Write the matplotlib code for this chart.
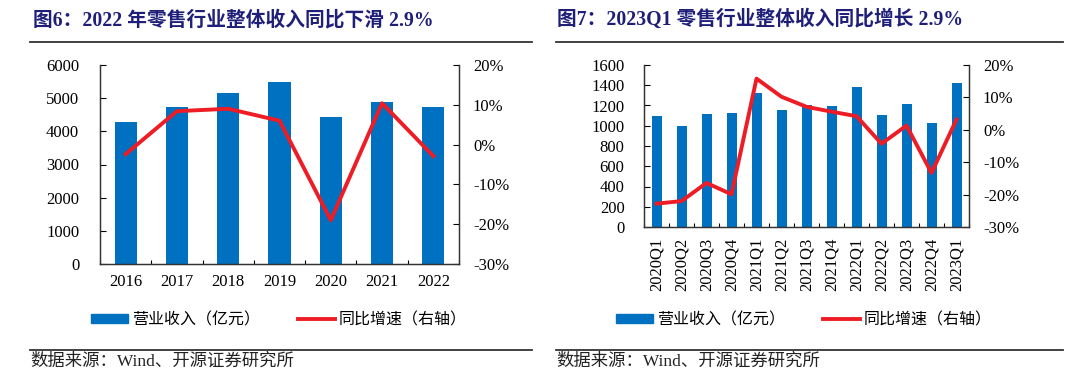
import matplotlib
matplotlib.use("Agg")
import matplotlib.pyplot as plt
from matplotlib.lines import Line2D
from matplotlib.patches import Patch

# ---------------- data ----------------
years = ["2016", "2017", "2018", "2019", "2020", "2021", "2022"]
rev_year = [4280, 4740, 5165, 5478, 4432, 4894, 4743]
yoy_year = [-2.4, 8.4, 9.0, 6.0, -19.0, 10.4, -2.9]

quarters = ["2020Q1", "2020Q2", "2020Q3", "2020Q4", "2021Q1", "2021Q2", "2021Q3",
            "2021Q4", "2022Q1", "2022Q2", "2022Q3", "2022Q4", "2023Q1"]
rev_q = [1092, 993, 1115, 1128, 1326, 1155, 1204, 1191, 1382, 1102, 1211, 1029, 1422]
yoy_q = [-22.8, -22.0, -16.4, -19.9, 15.8, 10.2, 7.1, 5.6, 4.2, -4.3, 1.3, -13.3, 3.2]

left_yticks = [0, 1000, 2000, 3000, 4000, 5000, 6000]
right_yticks_q = [0, 200, 400, 600, 800, 1000, 1200, 1400, 1600]
pct_ticks = [-30, -20, -10, 0, 10, 20]

title_left = "图6：2022 年零售行业整体收入同比下滑 2.9%"
title_right = "图7：2023Q1 零售行业整体收入同比增长 2.9%"
legend_labels = ["营业收入（亿元）", "同比增速（右轴）"]
source_text = "数据来源：Wind、开源证券研究所"

# ---------------- style ----------------
BLUE = "#0070C0"
RED = "#EE1C25"
NAVY = "#1F1F7A"
SERIF = ["Liberation Serif", "Noto Sans CJK SC"]
CJK = ["Noto Sans CJK SC", "DejaVu Sans"]
plt.rcParams["font.family"] = SERIF

W, H = 1080, 384
fig = plt.figure(figsize=(W / 100, H / 100), dpi=100)


def px(x0, y0, x1, y1):
    return [x0 / W, 1 - y1 / H, (x1 - x0) / W, (y1 - y0) / H]


def make_panel(rect, cats, bars, line, yticks, bar_w, rotate, lpad):
    ax = fig.add_axes(rect)
    xs = list(range(len(cats)))
    ax.bar(xs, bars, width=bar_w, color=BLUE, zorder=2)
    ax.set_xlim(-0.5, len(cats) - 0.5)
    ax.set_ylim(yticks[0], yticks[-1])
    ax.set_yticks(yticks)
    ax.set_yticklabels([str(v) for v in yticks], fontsize=12)
    ax.set_xticks(xs)
    ax.set_xticklabels(cats, fontsize=12, rotation=90 if rotate else 0)
    ax.set_xticks([i + 0.5 for i in range(-1, len(cats))], minor=True)
    ax.tick_params(axis="x", which="major", length=0, pad=7 if not rotate else 8)
    ax.tick_params(axis="x", which="minor", direction="in", length=3, width=0.8)
    ax.tick_params(axis="y", direction="in", length=4, width=0.8, pad=lpad)
    ax.spines["top"].set_visible(False)
    for s in ["left", "bottom", "right"]:
        ax.spines[s].set_linewidth(0.9)
        ax.spines[s].set_color("#333333")

    ax2 = ax.twinx()
    ax2.plot(xs, line, color=RED, lw=2.8, zorder=3)
    ax2.set_ylim(pct_ticks[0], pct_ticks[-1])
    ax2.set_yticks(pct_ticks)
    ax2.set_yticklabels([f"{v}%" for v in pct_ticks], fontsize=12)
    ax2.tick_params(axis="y", direction="in", length=4, width=0.8, pad=10)
    ax2.spines["top"].set_visible(False)
    for s in ["left", "bottom", "right"]:
        ax2.spines[s].set_linewidth(0.9)
        ax2.spines[s].set_color("#333333")
    return ax, ax2


make_panel(px(100, 65, 459, 264), years, rev_year, yoy_year, left_yticks, 0.43, False, 15)
make_panel(px(644, 65, 969, 227), quarters, rev_q, yoy_q, right_yticks_q, 0.40, True, 14)

# titles
for x, t in [(33, title_left), (557, title_right)]:
    fig.text(x / W, 1 - 20 / H, t, fontsize=14.2, fontweight="bold", color=NAVY,
             family=SERIF, ha="left", va="center")

# separator lines
for (x0, x1) in [(30, 532), (556, 1063)]:
    for y in (42, 350):
        fig.add_artist(Line2D([x0 / W, x1 / W], [1 - y / H, 1 - y / H],
                              color="#333333", lw=1.3))

# legends
handles = [Patch(facecolor=BLUE, edgecolor=BLUE),
           Line2D([0], [0], color=RED, lw=2.8)]
for cx in (279, 804):
    fig.legend(handles, legend_labels, loc="center",
               bbox_to_anchor=(cx / W, 1 - 320 / H), ncol=2, frameon=False,
               prop={"family": CJK, "size": 11.5}, handlelength=2.3,
               handleheight=0.5, handletextpad=0.25, columnspacing=2.4)

# source
for x in (30, 556):
    fig.text(x / W, 1 - 362 / H, source_text, fontsize=12.5, family=SERIF,
             ha="left", va="center", color="#222222")

fig.savefig("out.png", dpi=100)
